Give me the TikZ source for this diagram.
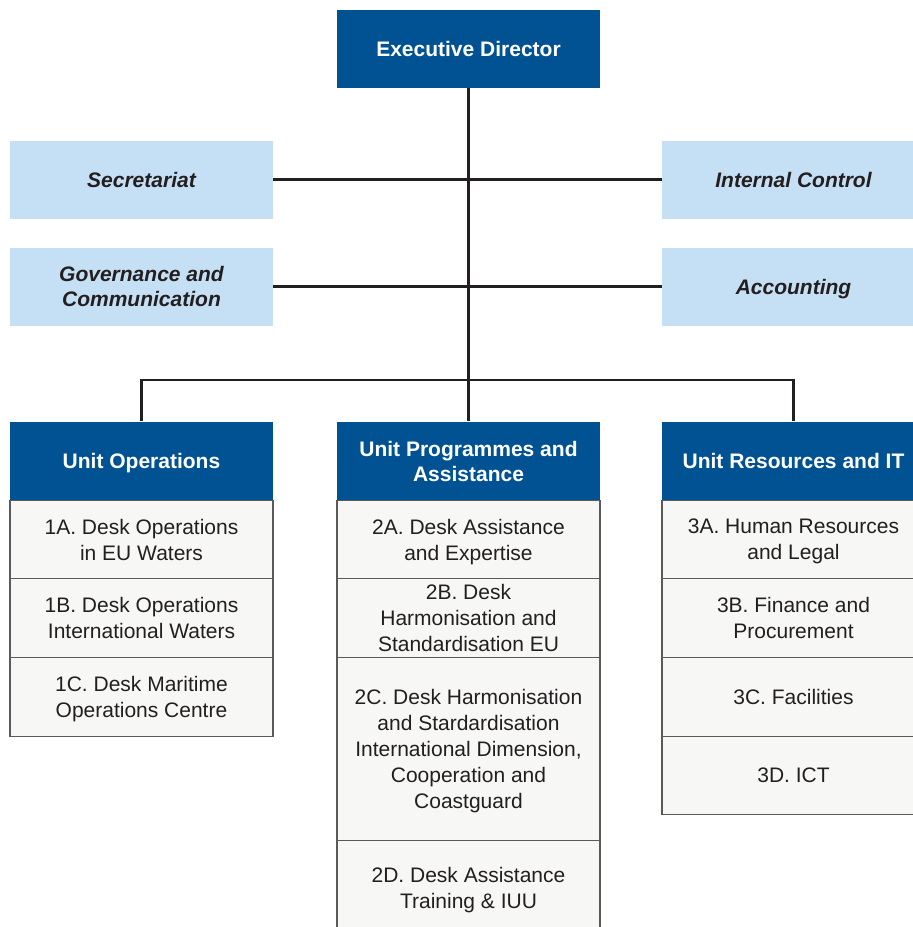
\documentclass[tikz,border=0pt]{standalone}
\usepackage{fontspec}
\setmainfont{Liberation Sans}
\definecolor{edblue}{HTML}{005293}
\definecolor{lightblue}{HTML}{C5E0F4}
\definecolor{subfill}{HTML}{F7F7F5}
\definecolor{subline}{HTML}{5A5A5A}
\definecolor{txt}{HTML}{231F20}
\begin{document}
\begin{tikzpicture}[x=1pt,y=-1pt,
  hdr/.style={fill=edblue, text=white, font=\bfseries\fontsize{21}{25}\selectfont, minimum width=263pt, minimum height=79pt, align=center, inner sep=0pt, text depth=0pt},
  staff/.style={fill=lightblue, text=txt, font=\bfseries\itshape\fontsize{21}{25}\selectfont, minimum width=263pt, minimum height=78pt, align=center, inner sep=0pt, text depth=0pt},
  subbox/.style={fill=subfill, draw=subline, line width=1.3pt, text=txt, font=\fontsize{21}{26}\selectfont, minimum width=263pt, align=center, inner sep=0pt, text depth=0pt},
  conn/.style={draw=txt, line width=2.5pt}]
\useasboundingbox (0,0) rectangle (913,927);
\coordinate (bus) at (468.5,380);
\node[hdr, minimum height=78pt] (ed) at (468.5,48.5) {Executive Director};
\node[staff] (sec) at (141.5,179.5) {Secretariat};
\node[staff] (ic) at (793.5,179.5) {Internal Control};
\node[staff] (gov) at (141.5,286.5) {Governance and\\Communication};
\node[staff] (acc) at (793.5,286.5) {Accounting};
\node[hdr] (uo) at (141.5,461) {Unit Operations};
\node[hdr] (up) at (468.5,461) {Unit Programmes and\\Assistance};
\node[hdr] (ur) at (793.5,461) {Unit Resources and IT};
% column 1
\node[subbox, minimum height=78pt] (s1a) at (141.5,539.5) {1A. Desk Operations\\in EU Waters};
\node[subbox, minimum height=79pt] (s1b) at (141.5,618) {1B. Desk Operations\\International Waters};
\node[subbox, minimum height=79pt] (s1c) at (141.5,697) {1C. Desk Maritime\\Operations Centre};
% column 2
\node[subbox, minimum height=78pt] (s2a) at (468.5,539.5) {2A. Desk Assistance\\and Expertise};
\node[subbox, minimum height=79pt] (s2b) at (468.5,618) {2B. Desk\\Harmonisation and\\Standardisation EU};
\node[subbox, minimum height=183pt] (s2c) at (468.5,749) {2C. Desk Harmonisation\\and Stardardisation\\International Dimension,\\Cooperation and\\Coastguard};
\node[subbox, minimum height=94pt] (s2d) at (468.5,887.5) {2D. Desk Assistance\\Training \& IUU};
% column 3
\node[subbox, minimum height=78pt] (s3a) at (793.5,539.5) {3A. Human Resources\\and Legal};
\node[subbox, minimum height=79pt] (s3b) at (793.5,618) {3B. Finance and\\Procurement};
\node[subbox, minimum height=79pt] (s3c) at (793.5,697) {3C. Facilities};
\node[subbox, minimum height=78pt] (s3d) at (793.5,775.5) {3D. ICT};
% connectors
\draw[conn] (ed.south) -- (bus);
\draw[conn] (sec.east) -- (ic.west);
\draw[conn] (gov.east) -- (acc.west);
\draw[conn] (uo.north) |- (bus) -| (ur.north);
\draw[conn] (bus) -- (up.north);
\end{tikzpicture}
\end{document}
